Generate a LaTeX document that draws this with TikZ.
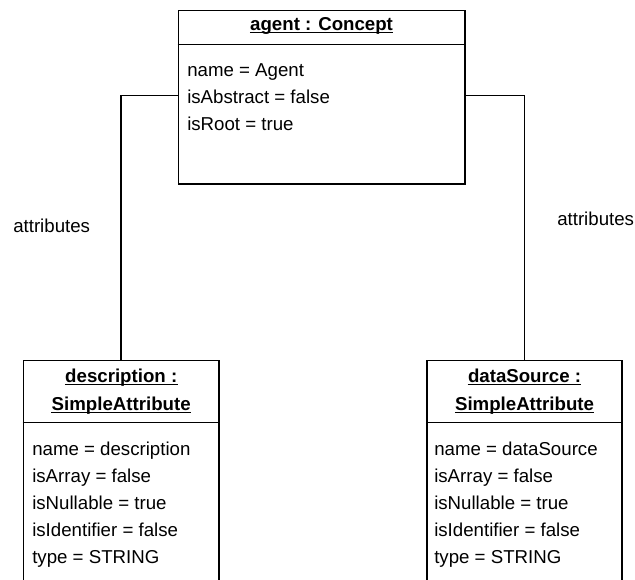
\documentclass[tikz,border=0pt]{standalone}
\usepackage{fontspec}
\setmainfont{Liberation Sans}
\begin{document}
\begin{tikzpicture}[x=0.75pt,y=-0.75pt,
  objbox/.style={draw, line width=1.2pt, rectangle, inner sep=0pt, anchor=north west},
  objtitle/.style={font=\bfseries\fontsize{14}{16}\selectfont, anchor=base, inner sep=0pt},
  attr/.style={font=\fontsize{14}{16}\selectfont, anchor=base west, inner sep=0pt},
  lbl/.style={font=\fontsize{14}{16}\selectfont, anchor=base west, inner sep=0pt},
  link/.style={line width=1.2pt},
  uline/.style={line width=0.8pt}]
\useasboundingbox (0,0) rectangle (635,579);
\clip (0,0) rectangle (635,579);

% object boxes
\node[objbox, minimum width=214.9pt, minimum height=130.1pt] (agent) at (177.5,9.5) {};
\node[objbox, minimum width=146.6pt, minimum height=180pt] (desc) at (22.7,359.5) {};
\node[objbox, minimum width=146.6pt, minimum height=180pt] (dsrc) at (426,359.5) {};

% compartment dividers
\draw[link] (agent.west |- 0,44.5) -- (agent.east |- 0,44.5);
\draw[link] (desc.west |- 0,422.5) -- (desc.east |- 0,422.5);
\draw[link] (dsrc.west |- 0,422.5) -- (dsrc.east |- 0,422.5);

% titles, underlined just below the baseline
\node[objtitle] (agentT) at (agent.north |- 0,30.5) {agent : Concept};
\node[objtitle] (descT1) at (desc.north |- 0,382.5) {description :};
\node[objtitle] (descT2) at (desc.north |- 0,410) {SimpleAttribute};
\node[objtitle] (dsrcT1) at (dsrc.north |- 0,382.5) {dataSource :};
\node[objtitle] (dsrcT2) at (dsrc.north |- 0,410) {SimpleAttribute};
\foreach \t in {agentT,descT1,descT2,dsrcT1,dsrcT2}
  \draw[uline] ([yshift=-1.6pt]\t.base west) -- ([yshift=-1.6pt]\t.base east);

% attribute slots
\node[attr] (a1) at (187,76) {name = Agent};
\node[attr] (a2) at (187,103.2) {isAbstract = false};
\node[attr] (a3) at (187,130.4) {isRoot = true};

\node[attr] (d1) at (32,455) {name = description};
\node[attr] (d2) at (32,482.2) {isArray = false};
\node[attr] (d3) at (32,509.4) {isNullable = true};
\node[attr] (d4) at (32,536.6) {isIdentifier = false};
\node[attr] (d5) at (32,563.8) {type = STRING};

\node[attr] (s1) at (434,455) {name = dataSource};
\node[attr] (s2) at (434,482.2) {isArray = false};
\node[attr] (s3) at (434,509.4) {isNullable = true};
\node[attr] (s4) at (434,536.6) {isIdentifier = false};
\node[attr] (s5) at (434,563.8) {type = STRING};

% links
\draw[link] (agent.west |- 0,95.5) -| (desc.north);
\draw[link] (agent.east |- 0,95.5) -| (dsrc.north);

% link labels
\node[lbl] (lblL) at (13,232) {attributes};
\node[lbl] (lblR) at (557,225) {attributes};
\end{tikzpicture}
\end{document}
